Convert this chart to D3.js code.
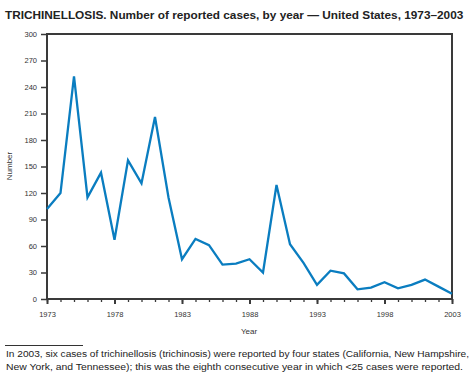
<!DOCTYPE html>
<html><head><meta charset="utf-8">
<script src="https://cdn.jsdelivr.net/npm/d3@7"></script>
<style>body{margin:0;background:#fff;} svg{display:block;font-family:"Liberation Sans",Arial,sans-serif;}</style>
</head><body>
<svg id="c" width="475" height="385"></svg>
<script>
const years = d3.range(1973, 2004);
const cases = [102,120,252,115,143,67,157,131,206,115,45,68,61,39,40,45,30,129,62,41,16,32,29,11,13,19,12,16,22,14,6];
const yTicks = [0,30,60,90,120,150,180,210,240,270,300];
const xTickLabels = [1973,1978,1983,1988,1993,1998,2003];

const svg = d3.select("#c");
const L=47, R=452, T=34, B=299;
const x = d3.scaleLinear().domain([1973,2003]).range([L,R]);
const y = d3.scaleLinear().domain([0,300]).range([B,T]);
const ink = "#3a3a3a";

svg.append("text").attr("x",5).attr("y",19).attr("font-size",11.8).attr("font-weight","bold")
  .attr("fill","#222")
  .text("TRICHINELLOSIS. Number of reported cases, by year — United States, 1973–2003");

// frame
svg.append("rect").attr("x",L).attr("y",T).attr("width",R-L).attr("height",B-T)
  .attr("fill","none").attr("stroke",ink).attr("stroke-width",2);

// y axis
const ya = svg.append("g").attr("transform",`translate(${L},0)`)
  .call(d3.axisLeft(y).tickValues(yTicks).tickSize(6).tickPadding(4));
ya.select(".domain").remove();
ya.selectAll("line").attr("stroke",ink).attr("stroke-width",1.5);
ya.selectAll("text").attr("font-size",7.5).attr("fill","#333").attr("font-family","Liberation Sans, Arial, sans-serif");

// x axis minor
const xm = svg.append("g").attr("transform",`translate(0,${B})`)
  .call(d3.axisBottom(x).tickValues(years).tickSize(3).tickFormat(""));
xm.select(".domain").remove();
xm.selectAll("line").attr("stroke",ink).attr("stroke-width",1.3);
const xa = svg.append("g").attr("transform",`translate(0,${B})`)
  .call(d3.axisBottom(x).tickValues(xTickLabels).tickSize(5).tickPadding(8).tickFormat(d3.format("d")));
xa.select(".domain").remove();
xa.selectAll("line").attr("stroke",ink).attr("stroke-width",2);
xa.selectAll("text").attr("font-size",7.5).attr("fill","#333").attr("font-family","Liberation Sans, Arial, sans-serif");

svg.append("text").attr("x",249).attr("y",334).attr("text-anchor","middle").attr("font-size",8).attr("fill","#333").text("Year");
svg.append("text").attr("transform","translate(12,166) rotate(-90)").attr("text-anchor","middle").attr("font-size",8).attr("fill","#333").text("Number");

// line
const line = d3.line().x((d,i)=>x(years[i])).y(d=>y(d));
svg.append("path").datum(cases).attr("d",line).attr("fill","none")
  .attr("stroke","#0a7dc0").attr("stroke-width",2.3).attr("stroke-linejoin","miter");

// footnote
svg.append("line").attr("x1",5).attr("x2",83).attr("y1",345.5).attr("y2",345.5).attr("stroke","#333").attr("stroke-width",1);
svg.append("text").attr("x",6).attr("y",357).attr("font-size",9.6).attr("fill","#222")
  .attr("textLength",463).attr("lengthAdjust","spacingAndGlyphs")
  .text("In 2003, six cases of trichinellosis (trichinosis) were reported by four states (California, New Hampshire,");
svg.append("text").attr("x",6).attr("y",370).attr("font-size",9.6).attr("fill","#222")
  .attr("textLength",457).attr("lengthAdjust","spacingAndGlyphs")
  .text("New York, and Tennessee); this was the eighth consecutive year in which <25 cases were reported.");
</script>
</body></html>
